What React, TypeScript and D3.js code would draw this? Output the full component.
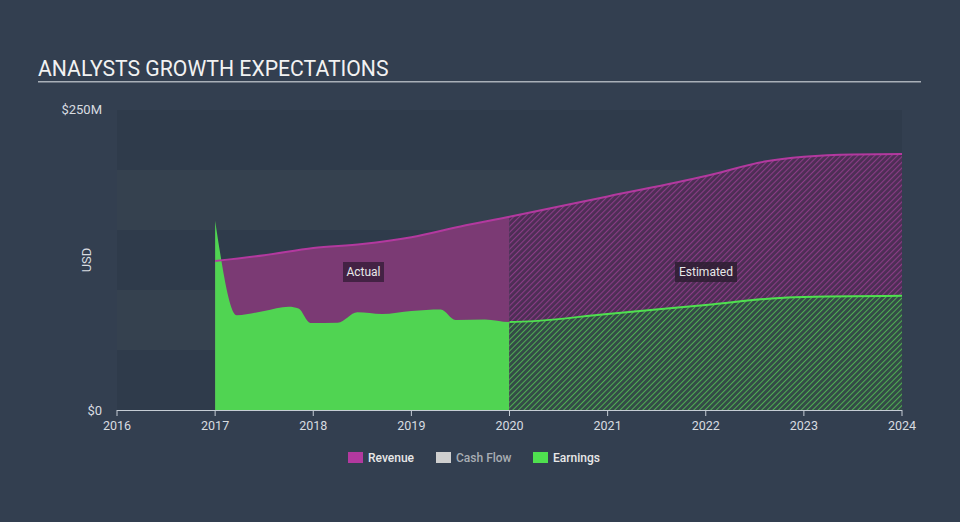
import React from "react";
import * as d3 from "d3";

const revenueYears = [2017.0, 2017.5, 2018.0, 2018.5, 2019.0, 2019.5, 2020.0, 2021.0, 2022.0, 2022.6, 2023.0, 2023.5, 2024.0];
const revenueValues = [124.2, 129, 135, 138.3, 144, 153, 161, 178, 195, 207, 211, 213, 213.3];

const earningsYears = [2017.0, 2017.22, 2017.5, 2017.75, 2017.85, 2017.97, 2018.25, 2018.45, 2018.7, 2019.0, 2019.3, 2019.45, 2019.75, 2020.0, 2021.0, 2022.0, 2022.9, 2024.0];
const earningsValues = [157.8, 79, 82.5, 86, 84.5, 72.5, 72.7, 81.4, 80, 82.5, 83.7, 75, 75.4, 73.3, 80, 87.5, 94, 95.2];

const xTicks = [2016, 2017, 2018, 2019, 2020, 2021, 2022, 2023, 2024];
const bandValues = [0, 50, 100, 150, 200];
const forecastStart = 2020.0;
const legendItems = ["Revenue", "Cash Flow", "Earnings"];
const legendColors = ["#b3399f", "#cfcfcf", "#4fe04f"];

type P = [number, number];

export default function App() {
  const W = 960, H = 522;
  const x = d3.scaleLinear().domain([2016, 2024]).range([117, 902]);
  const y = d3.scaleLinear().domain([0, 250]).range([410, 110]);

  const rev: P[] = revenueYears.map((t, i) => [t, revenueValues[i]]);
  const earn: P[] = earningsYears.map((t, i) => [t, earningsValues[i]]);

  const area = d3.area<P>().x(d => x(d[0])).y0(y(0)).y1(d => y(d[1])).curve(d3.curveMonotoneX);
  const line = d3.line<P>().x(d => x(d[0])).y(d => y(d[1])).curve(d3.curveMonotoneX);

  const revPath = area(rev) || "";
  const earnPath = area(earn) || "";
  const revLine = line(rev) || "";
  const earnLine = line(earn) || "";
  const xf = x(forecastStart);

  return (
    <svg width={W} height={H} style={{ position: "absolute", left: 0, top: 0, display: "block" }} fontFamily="Roboto, sans-serif">
      <defs>
        <pattern id="hatchRev" width="4" height="4" patternUnits="userSpaceOnUse" patternTransform="rotate(45)">
          <rect width="4" height="4" fill="#4d2e55" />
          <line x1="0" y1="0" x2="0" y2="4" stroke="#8a3c86" strokeWidth="2.2" />
        </pattern>
        <pattern id="hatchEarn" width="4" height="4" patternUnits="userSpaceOnUse" patternTransform="rotate(45)">
          <rect width="4" height="4" fill="#344b47" />
          <line x1="0" y1="0" x2="0" y2="4" stroke="#4fae52" strokeWidth="2" />
        </pattern>
        <clipPath id="actualClip">
          <rect x={0} y={0} width={xf} height={H} />
        </clipPath>
        <clipPath id="estClip">
          <rect x={xf} y={0} width={W - xf} height={H} />
        </clipPath>
      </defs>
      <rect width={W} height={H} fill="#333f50" />
      {bandValues.map((v, i) => (
        <rect key={v} x={x(2016)} width={x(2024) - x(2016)} y={y(v + 50)} height={y(v) - y(v + 50)}
          fill={i % 2 === 0 ? "#2f3b4b" : "#35414f"} />
      ))}
      <text x={38} y={76} fill="#f2f2f2" fontSize={21.2}>ANALYSTS GROWTH EXPECTATIONS</text>
      <rect x={38} y={81} width={883} height={1.5} fill="#a9b0b8" />

      <g clipPath="url(#actualClip)">
        <path d={revPath} fill="#7b3a74" />
        <path d={earnPath} fill="#50d452" />
      </g>
      <g clipPath="url(#estClip)">
        <path d={revPath} fill="url(#hatchRev)" />
        <path d={earnPath} fill="url(#hatchEarn)" />
        <path d={earnLine} fill="none" stroke="#4fe04f" strokeWidth={2} />
      </g>
      <path d={revLine} fill="none" stroke="#b3399f" strokeWidth={2} />

      <g>
        <rect x={343} y={262} width={41} height={20} fill="#3a1f3c" opacity={0.85} />
        <text x={363.5} y={276} textAnchor="middle" fill="#e8e8e8" fontSize={12}>Actual</text>
        <rect x={675} y={262} width={62} height={20} fill="#2e1f33" opacity={0.85} />
        <text x={706} y={276} textAnchor="middle" fill="#e8e8e8" fontSize={12}>Estimated</text>
      </g>

      <line x1={x(2016)} x2={x(2024)} y1={410.5} y2={410.5} stroke="#c5ccd4" strokeWidth={1} />
      {xTicks.map(t => (
        <g key={t}>
          <line x1={x(t)} x2={x(t)} y1={410} y2={416} stroke="#c5ccd4" strokeWidth={1} />
          <text x={x(t)} y={430} textAnchor="middle" fill="#d8dce0" fontSize={12.5}>{t}</text>
        </g>
      ))}
      <text x={102} y={114} textAnchor="end" fill="#d8dce0" fontSize={13}>$250M</text>
      <text x={102} y={415} textAnchor="end" fill="#d8dce0" fontSize={13}>$0</text>
      <text transform="translate(91,260) rotate(-90)" textAnchor="middle" fill="#d8dce0" fontSize={13}>USD</text>

      {legendItems.map((name, i) => {
        const lx = [348, 436, 533][i];
        return (
          <g key={name}>
            <rect x={lx} y={452} width={15} height={11} fill={legendColors[i]} />
            <text x={lx + 20} y={462} fill={i === 1 ? "#a8adb3" : "#e8e8e8"} fontSize={12} fontWeight={500}>{name}</text>
          </g>
        );
      })}
    </svg>
  );
}
